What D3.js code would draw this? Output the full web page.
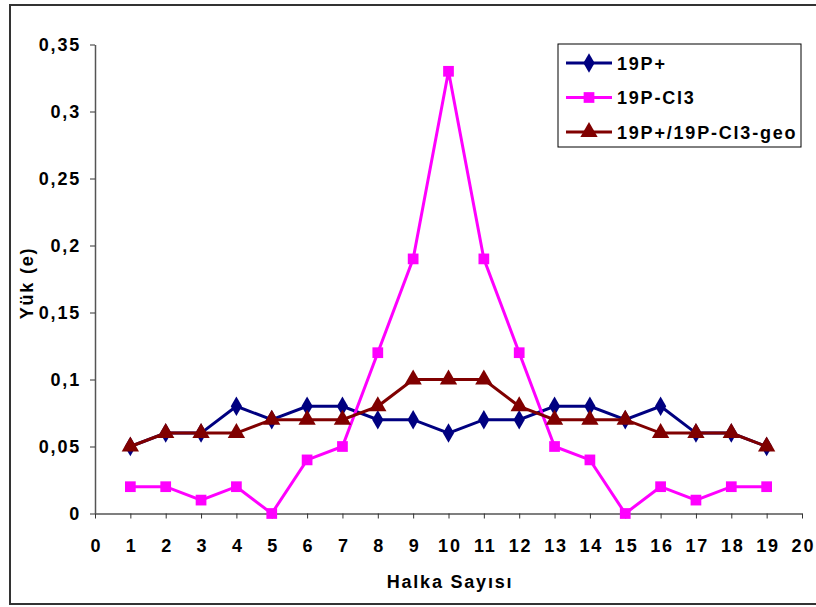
<!DOCTYPE html>
<html>
<head>
<meta charset="utf-8">
<script src="https://cdn.jsdelivr.net/npm/d3@7"></script>
<style>
  html, body { margin: 0; padding: 0; background: #fff; }
  svg text { font-family: "Liberation Sans", Arial, sans-serif; font-weight: bold; fill: #000; letter-spacing: 1.8px; }
</style>
</head>
<body>
<svg id="chart" width="816" height="607"></svg>
<script>
// Charge per ring position for three systems
const rings = d3.range(1, 20);
const seriesP = [0.05,0.06,0.06,0.08,0.07,0.08,0.08,0.07,0.07,0.06,0.07,0.07,0.08,0.08,0.07,0.08,0.06,0.06,0.05];
const seriesCl3 = [0.02,0.02,0.01,0.02,0,0.04,0.05,0.12,0.19,0.33,0.19,0.12,0.05,0.04,0,0.02,0.01,0.02,0.02];
const seriesGeo = [0.05,0.06,0.06,0.06,0.07,0.07,0.07,0.08,0.10,0.10,0.10,0.08,0.07,0.07,0.07,0.06,0.06,0.06,0.05];
const seriesNames = ["19P+", "19P-Cl3", "19P+/19P-Cl3-geo"];
const xTicks = d3.range(0, 21);
const yTicks = [0, 0.05, 0.1, 0.15, 0.2, 0.25, 0.3, 0.35];
const yTickLabels = ["0", "0,05", "0,1", "0,15", "0,2", "0,25", "0,3", "0,35"];

const svg = d3.select("#chart");
const plotLeft = 95, plotRight = 802, plotTop = 44.5, plotBottom = 513.5;

// outer frame
svg.append("rect").attr("x", 10).attr("y", 5).attr("width", 812).attr("height", 599)
  .attr("fill", "none").attr("stroke", "#333").attr("stroke-width", 2);

const x = d3.scaleLinear().domain([0, 20]).range([plotLeft, plotRight]);
const y = d3.scaleLinear().domain([0, 0.35]).range([plotBottom, plotTop]);

const xAxis = svg.append("g").attr("transform", `translate(0,${plotBottom})`)
  .call(d3.axisBottom(x).tickValues(xTicks).tickFormat(d3.format("d")).tickSize(5).tickSizeOuter(0));
const yAxis = svg.append("g").attr("transform", `translate(${plotLeft},0)`)
  .call(d3.axisLeft(y).tickValues(yTicks).tickFormat((d, i) => yTickLabels[i]).tickSize(5).tickSizeOuter(0));
[xAxis, yAxis].forEach(a => {
  a.select(".domain").attr("stroke", "#555").attr("stroke-width", 1.5);
  a.selectAll(".tick line").attr("stroke", "#333");
  a.selectAll("text").style("font-size", "18px").style("font-weight", "bold")
    .style("font-family", "'Liberation Sans', Arial, sans-serif");
});
xAxis.selectAll("text").attr("y", 38.5).attr("dy", 0).attr("dx", "0.9px");
yAxis.selectAll("text").attr("x", -14).attr("dy", "0.36em");

// axis titles
svg.append("text").attr("x", 450).attr("y", 588).attr("text-anchor", "middle")
  .style("font-size", "18px").text("Halka Sayısı");
svg.append("text").attr("transform", "translate(33,283) rotate(-90)").attr("text-anchor", "middle")
  .style("font-size", "18px").text("Yük (e)");

const line = d3.line().x((d, i) => x(rings[i])).y(d => y(d));
const series = [
  { name: seriesNames[0], values: seriesP, color: "#000080", shape: d3.symbolDiamond, size: 110 },
  { name: seriesNames[1], values: seriesCl3, color: "#FF00FF", shape: d3.symbolSquare, size: 115 },
  { name: seriesNames[2], values: seriesGeo, color: "#800000", shape: d3.symbolTriangle, size: 130 }
];

series.forEach(s => {
  const g = svg.append("g");
  g.append("path").datum(s.values).attr("d", line).attr("fill", "none")
    .attr("stroke", s.color).attr("stroke-width", 3);
  g.selectAll("path.m").data(s.values).join("path").attr("class", "m")
    .attr("d", d3.symbol().type(s.shape).size(s.size))
    .attr("transform", (d, i) => `translate(${x(rings[i])},${y(d)})`)
    .attr("fill", s.color);
});

// legend
const lg = svg.append("g");
lg.append("rect").attr("x", 558).attr("y", 44).attr("width", 243).attr("height", 103)
  .attr("fill", "#fff").attr("stroke", "#000").attr("stroke-width", 1);
series.forEach((s, i) => {
  const cy = 63 + i * 34.5;
  lg.append("line").attr("x1", 566).attr("x2", 612).attr("y1", cy).attr("y2", cy)
    .attr("stroke", s.color).attr("stroke-width", 3);
  lg.append("path").attr("d", d3.symbol().type(s.shape).size(s.size))
    .attr("transform", `translate(589,${cy})`).attr("fill", s.color);
  lg.append("text").attr("x", 617).attr("y", cy + 6.5).style("font-size", "18px").text(s.name);
});
</script>
</body>
</html>
